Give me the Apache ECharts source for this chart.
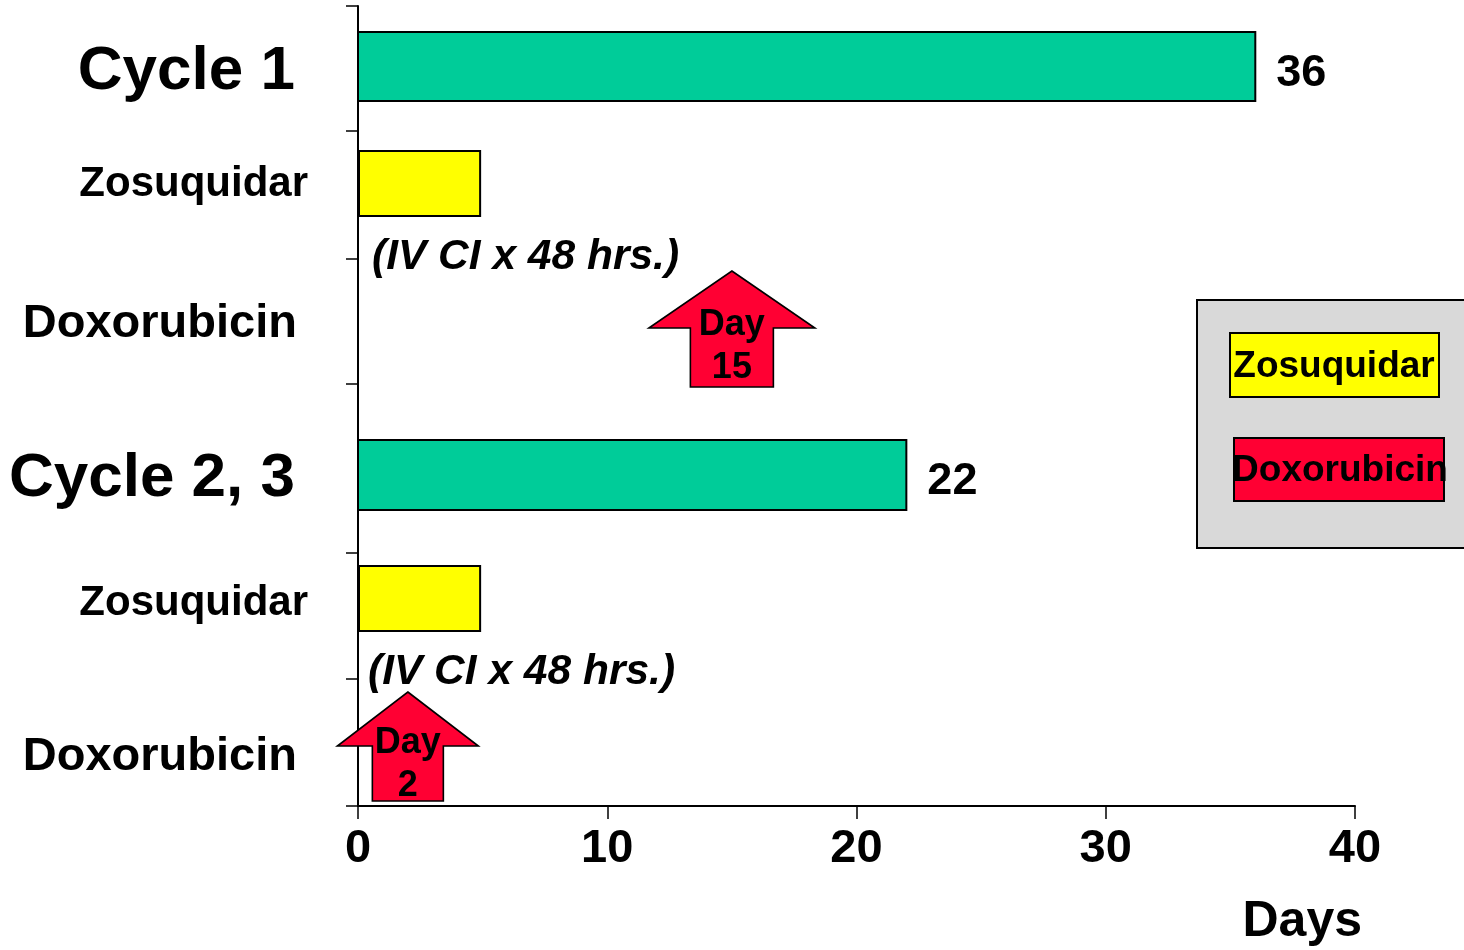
<!DOCTYPE html>
<html>
<head>
<meta charset="utf-8">
<title>Zosuquidar / Doxorubicin schedule</title>
<script src="https://cdn.jsdelivr.net/npm/echarts@6/dist/echarts.min.js"></script>
<style>
  html, body { margin: 0; padding: 0; background: #fff; }
  #chart { width: 1464px; height: 950px; }
</style>
</head>
<body>
<div id="chart"></div>
<script>
// ---- data ----
const cycles = ['Cycle 1', 'Cycle 2, 3'];
const cycleDays = [36, 22];             // length of each cycle (days)
const drugs = ['Zosuquidar', 'Doxorubicin'];
const zosuquidarDays = [4.9, 4.9];      // zosuquidar infusion bar length (days)
const zosuquidarNote = '(IV CI x 48 hrs.)';
const doxorubicinDay = [15, 2];         // day doxorubicin is given
const xTicks = [0, 10, 20, 30, 40];
const xTitle = 'Days';

// ---- layout (row positions on the vertical scale, 0 at top) ----
const blocks = [
  { label: 2.64, bar: [1.04, 3.8], zLabel: 7.14, zBar: [5.8, 8.4], dLabel: 12.72,
    arrow: { tip: 10.6, wing: 12.88, base: 15.24, wingHalf: 83, shaftHalf: 41.5 } },
  { label: 18.9, bar: [17.36, 20.16], zLabel: 23.9, zBar: [22.4, 25.0], dLabel: 30.04,
    arrow: { tip: 27.44, wing: 29.6, base: 31.8, wingHalf: 70.5, shaftHalf: 35.5 } }
];
const yTickRows = [0, 5, 10.12, 15.12, 21.88, 26.92, 32];

const COLORS = { cycle: '#00CC99', zos: '#FFFF00', dox: '#FF0033', legendBg: '#D9D9D9' };
const FONT = '"Liberation Sans", Arial, Helvetica, sans-serif';

const chart = echarts.init(document.getElementById('chart'), null, { renderer: 'canvas' });

function cycleBars(params, api) {
  const i = api.value(1);
  const b = blocks[i];
  const p0 = api.coord([0, b.bar[0]]);
  const p1 = api.coord([api.value(0), b.bar[1]]);
  return {
    type: 'group',
    children: [
      { type: 'rect', shape: { x: p0[0], y: p0[1], width: p1[0] - p0[0], height: p1[1] - p0[1] },
        style: { fill: COLORS.cycle, stroke: '#000', lineWidth: 2 } },
      { type: 'text', x: p1[0] + 21, y: (p0[1] + p1[1]) / 2 + 7,
        style: { text: String(api.value(0)), font: 'bold 45px ' + FONT, fill: '#000',
                 align: 'left', verticalAlign: 'middle' } }
    ]
  };
}

function zosBars(params, api) {
  const i = api.value(1);
  const b = blocks[i];
  const p0 = api.coord([0, b.zBar[0]]);
  const p1 = api.coord([api.value(0), b.zBar[1]]);
  return {
    type: 'group',
    children: [
      { type: 'rect', shape: { x: p0[0] + 1, y: p0[1], width: p1[0] - p0[0] - 1, height: p1[1] - p0[1] },
        style: { fill: COLORS.zos, stroke: '#000', lineWidth: 2 } },
      { type: 'text', x: p0[0] + (i === 0 ? 14 : 10), y: p1[1] + 41,
        style: { text: zosuquidarNote, font: 'italic bold 42.5px ' + FONT, fill: '#000',
                 align: 'left', verticalAlign: 'middle' } }
    ]
  };
}

function doxArrows(params, api) {
  const i = api.value(1);
  const a = blocks[i].arrow;
  const day = api.value(0);
  const tip = api.coord([day, a.tip]);
  const wingY = api.coord([day, a.wing])[1];
  const baseY = api.coord([day, a.base])[1];
  const cx = tip[0];
  const pts = [
    [cx, tip[1]],
    [cx + a.wingHalf, wingY],
    [cx + a.shaftHalf, wingY],
    [cx + a.shaftHalf, baseY],
    [cx - a.shaftHalf, baseY],
    [cx - a.shaftHalf, wingY],
    [cx - a.wingHalf, wingY]
  ];
  return {
    type: 'group',
    children: [
      { type: 'polygon', shape: { points: pts },
        style: { fill: COLORS.dox, stroke: '#000', lineWidth: 1.6, lineJoin: 'miter' } },
      { type: 'text', x: cx, y: wingY + 19,
        style: { text: 'Day\n' + day, font: 'bold 36px ' + FONT, fill: '#000',
                 align: 'center', verticalAlign: 'middle', lineHeight: 43 } }
    ]
  };
}

// row labels to the left of the vertical axis
const rowLabelData = [];
cycles.forEach((c, i) => {
  rowLabelData.push({ value: [0, blocks[i].label], name: c, kind: 'cycle' });
  rowLabelData.push({ value: [0, blocks[i].zLabel], name: drugs[0], kind: 'zos' });
  rowLabelData.push({ value: [0, blocks[i].dLabel], name: drugs[1], kind: 'dox' });
});
const labelStyle = {
  cycle: { font: 'bold 62px ' + FONT, gap: 63 },
  zos: { font: 'bold 42px ' + FONT, gap: 50 },
  dox: { font: 'bold 47px ' + FONT, gap: 61 }
};

function rowLabels(params, api) {
  const d = rowLabelData[params.dataIndex];
  const p = api.coord([api.value(0), api.value(1)]);
  const s = labelStyle[d.kind];
  return {
    type: 'text', x: p[0] - s.gap, y: p[1],
    style: { text: d.name, font: s.font, fill: '#000', align: 'right', verticalAlign: 'middle' }
  };
}

const option = {
  animation: false,
  backgroundColor: '#ffffff',
  grid: { left: 358, right: 109, top: 6, bottom: 144, containLabel: false },
  xAxis: {
    type: 'value', position: 'bottom',
    min: xTicks[0], max: xTicks[xTicks.length - 1], interval: xTicks[1] - xTicks[0],
    axisLine: { show: true, onZero: false, lineStyle: { color: '#000', width: 2 } },
    axisTick: { show: true, length: 13, lineStyle: { color: '#000', width: 1.5 } },
    axisLabel: { show: true, margin: 20, color: '#000', fontFamily: FONT, fontWeight: 'bold', fontSize: 47 },
    splitLine: { show: false }
  },
  yAxis: {
    type: 'value', inverse: true, min: 0, max: 32,
    axisLine: { show: true, onZero: false, lineStyle: { color: '#000', width: 2 } },
    axisTick: { show: true, length: 12, customValues: yTickRows, lineStyle: { color: '#000', width: 1.5 } },
    axisLabel: { show: false },
    splitLine: { show: false }
  },
  graphic: [
    { type: 'text', right: 1464 - 1362, top: 897,
      style: { text: xTitle, font: 'bold 50px ' + FONT, fill: '#000' } },
    { type: 'group', left: 1196, top: 299, children: [
      { type: 'rect', shape: { x: 0, y: 0, width: 272, height: 248 },
        style: { fill: COLORS.legendBg, stroke: '#000', lineWidth: 2 } },
      { type: 'rect', shape: { x: 33, y: 33, width: 209, height: 64 },
        style: { fill: COLORS.zos, stroke: '#000', lineWidth: 2 } },
      { type: 'text', x: 137, y: 67,
        style: { text: drugs[0], font: 'bold 37px ' + FONT, fill: '#000', align: 'center', verticalAlign: 'middle' } },
      { type: 'rect', shape: { x: 37, y: 138, width: 210, height: 63 },
        style: { fill: COLORS.dox, stroke: '#000', lineWidth: 2 } },
      { type: 'text', x: 143, y: 171,
        style: { text: drugs[1], font: 'bold 37px ' + FONT, fill: '#000', align: 'center', verticalAlign: 'middle' } }
    ] }
  ],
  series: [
    { type: 'custom', name: 'Cycle', renderItem: cycleBars, clip: false,
      data: cycleDays.map((d, i) => [d, i]), encode: { x: 0 } },
    { type: 'custom', name: drugs[0], renderItem: zosBars, clip: false,
      data: zosuquidarDays.map((d, i) => [d, i]), encode: { x: 0 } },
    { type: 'custom', name: drugs[1], renderItem: doxArrows, clip: false, z: 3,
      data: doxorubicinDay.map((d, i) => [d, i]), encode: { x: 0 } },
    { type: 'custom', name: 'rows', renderItem: rowLabels, clip: false,
      data: rowLabelData.map(d => d.value), encode: { x: 0, y: 1 } }
  ]
};
chart.setOption(option);
</script>
</body>
</html>
